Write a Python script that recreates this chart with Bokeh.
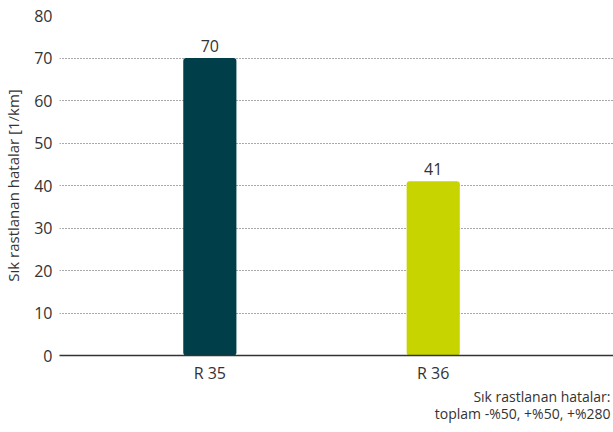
from bokeh.plotting import figure
from bokeh.models import Range1d, ColumnDataSource, FixedTicker, Title
from bokeh.embed import file_html
from bokeh.resources import INLINE
from bokeh.core.properties import value

categories = ["R 35", "R 36"]
positions = [1, 2]
values = [70, 41]
colors = ["#003e4a", "#c8d400"]
value_labels = ["70", "41"]
y_ticks = [0, 10, 20, 30, 40, 50, 60, 70, 80]
y_label = "Sık rastlanan hatalar [1/km]"
note_lines = ["Sık rastlanan hatalar:", "toplam -%50, +%50, +%280"]

FONT = "Open Sans"
TXT = "#333333"

src = ColumnDataSource(dict(x=positions, val=values, col=colors, lab=value_labels))

p = figure(width=613, height=432, output_backend="svg", toolbar_location=None,
           x_range=Range1d(0.327, 2.807), y_range=Range1d(0, 80))
p.min_border_left = 0
p.min_border_right = 0
p.min_border_top = 15
p.min_border_bottom = 77
p.outline_line_color = None
p.background_fill_color = "white"
p.border_fill_color = "white"

p.vbar(x="x", top="val", width=0.238, bottom=0, source=src,
       fill_color="col", line_color=None, border_radius=3)

p.text(x="x", y="val", text="lab", source=src, text_align="center",
       text_baseline="bottom", y_offset=-6, text_font=value(FONT),
       text_font_size="16px", text_color=TXT)

# y axis
p.yaxis.ticker = FixedTicker(ticks=y_ticks)
p.yaxis.axis_line_color = None
p.yaxis.major_tick_line_color = None
p.yaxis.minor_tick_line_color = None
p.yaxis.major_tick_in = 0
p.yaxis.major_tick_out = 0
p.yaxis.major_label_standoff = 7
p.yaxis.major_label_text_font = FONT
p.yaxis.major_label_text_font_size = "16px"
p.yaxis.major_label_text_color = TXT
p.yaxis.axis_label = y_label
p.yaxis.axis_label_text_font = FONT
p.yaxis.axis_label_text_font_size = "15px"
p.yaxis.axis_label_text_font_style = "normal"
p.yaxis.axis_label_text_color = TXT
p.yaxis.axis_label_standoff = 8

# x axis
p.xaxis.ticker = FixedTicker(ticks=positions)
p.xaxis.major_label_overrides = {pos: cat for pos, cat in zip(positions, categories)}
p.xaxis.axis_line_color = "#333333"
p.xaxis.axis_line_width = 1.5
p.xaxis.major_tick_line_color = None
p.xaxis.minor_tick_line_color = None
p.xaxis.major_tick_in = 0
p.xaxis.major_tick_out = 0
p.xaxis.major_label_standoff = 6
p.xaxis.major_label_text_font = FONT
p.xaxis.major_label_text_font_size = "16px"
p.xaxis.major_label_text_color = TXT

# grid
p.xgrid.grid_line_color = None
p.ygrid.grid_line_color = "#555555"
p.ygrid.grid_line_dash = "1 2"
p.ygrid.grid_line_width = 1

for i, line in enumerate(note_lines):
    p.add_layout(Title(text=line, align="right", text_font=FONT, text_font_size="14px",
                       text_font_style="normal", text_color=TXT, offset=3,
                       standoff=-4 if i == 0 else -3, text_line_height=0.9), "below")

open("out.html", "w").write(file_html(p, INLINE))
